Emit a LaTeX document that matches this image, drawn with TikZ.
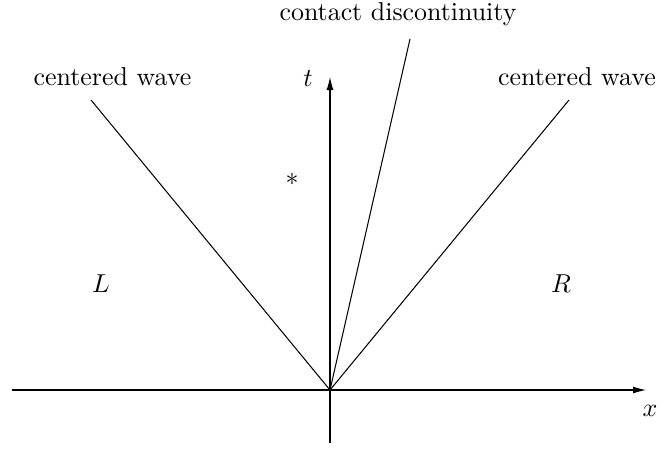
\documentclass[tikz,border=0pt]{standalone}
\usetikzlibrary{arrows.meta}
\begin{document}
\begin{tikzpicture}[x=1pt,y=-1pt,
  axis/.style={line width=1.04pt,-{Latex[length=13pt,width=7pt]}},
  ray/.style={line width=1.04pt},
  lbl/.style={scale=2.59,inner sep=0pt}]
\useasboundingbox (0,0) rectangle (662,450);
\coordinate (O) at (330,390);
\coordinate (xs) at (12,390);
\coordinate (xe) at (646,390);
\coordinate (ts) at (330,443);
\coordinate (te) at (330,77);
\coordinate (lw) at (91,100);
\coordinate (rw) at (569,100);
\coordinate (cd) at (410,39);
\draw[axis] (xs) -- (xe);
\draw[axis] (ts) -- (te);
\draw[ray] (O) -- (lw);
\draw[ray] (O) -- (rw);
\draw[ray] (O) -- (cd);
\node[lbl,anchor=base] (lwl) at (112.5,85) {centered wave};
\node[lbl,anchor=base] (rwl) at (577,85) {centered wave};
\node[lbl,anchor=base] (cdl) at (398,20.5) {contact discontinuity};
\node[lbl] (tl) at (308,79) {$t$};
\node[lbl] (xl) at (650,411) {$x$};
\node[lbl] (st) at (292,179) {$*$};
\node[lbl] (L) at (101,284) {$L$};
\node[lbl] (R) at (561,284) {$R$};
\end{tikzpicture}
\end{document}
